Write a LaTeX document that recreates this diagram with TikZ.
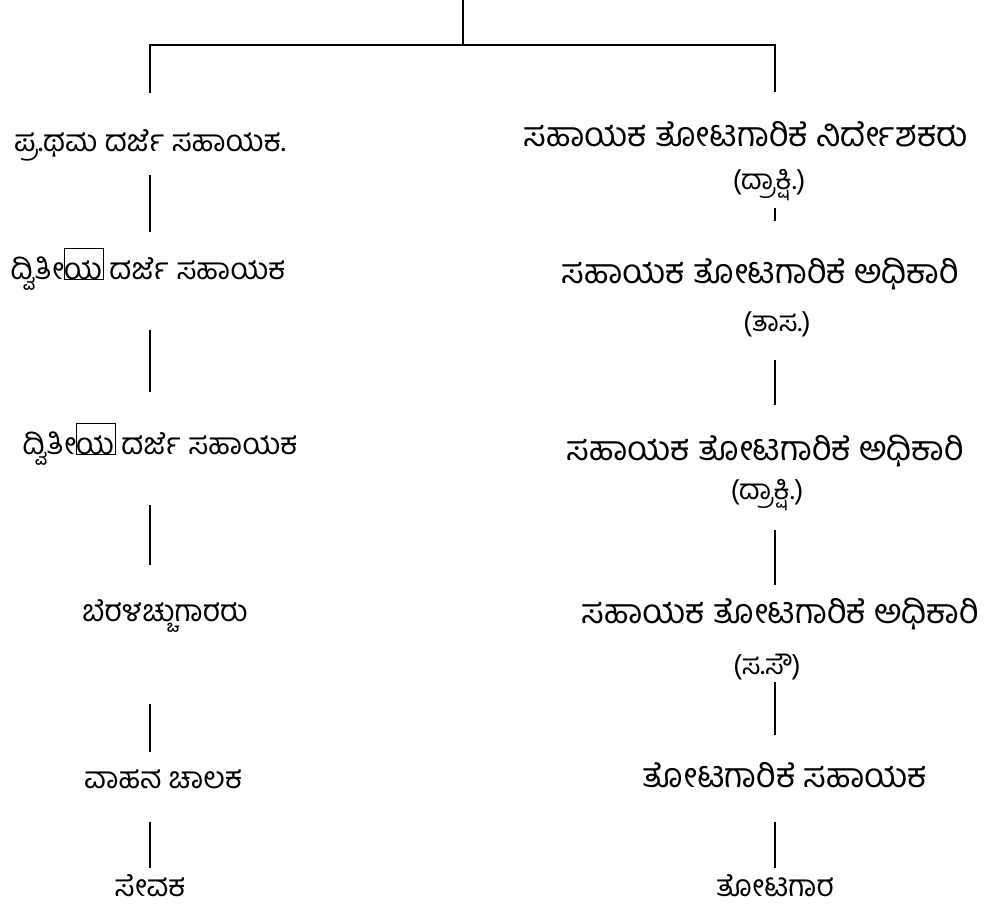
\documentclass[tikz,border=0pt]{standalone}
\usepackage{fontspec}
\newfontfamily\kn[Script=Kannada]{Hind Mysuru}
% hollow box standing in for an unrendered glyph, drawn over the letter
\newcommand\glyphbox[1]{\setbox0\hbox{#1}\rlap{\fboxsep=0pt\fboxrule=0.7pt\fbox{\rule{0pt}{1.0em}\hspace{\wd0}}}#1}
\begin{document}
\begin{tikzpicture}[x=1pt,y=-1pt,
  link/.style={line width=1.6pt},
  lefttxt/.style={font=\kn\fontsize{30}{34}\selectfont, inner sep=0pt, anchor=base},
  righttxt/.style={font=\kn\fontsize{34}{38}\selectfont, inner sep=0pt, anchor=base},
  subtxt/.style={font=\kn\fontsize{28}{32}\selectfont, inner sep=0pt, anchor=base}]
\useasboundingbox (0,0) rectangle (997,916);

% branching bracket at the top
\coordinate (top) at (463,0);
\coordinate (mid) at (463,45);
\coordinate (hL) at (150,45);
\coordinate (hR) at (775,45);
\coordinate (dL) at (150,93);
\coordinate (dR) at (775,92);
\draw[link] (top) -- (mid);
\draw[link] (dL) -- (hL) -- (hR) -- (dR);

% left column
\node[lefttxt] (L1) at (150,151) {ಪ್ರ.ಥಮ ದರ್ಜೆ ಸಹಾಯಕ.};
\node[lefttxt] (L2) at (148,279) {ದ್ವಿತೀ\glyphbox{ಯ} ದರ್ಜೆ ಸಹಾಯಕ};
\node[lefttxt] (L3) at (160,454) {ದ್ವಿತೀ\glyphbox{ಯ} ದರ್ಜೆ ಸಹಾಯಕ};
\node[lefttxt] (L4) at (165,621) {ಬೆರಳಚ್ಚುಗಾರರು};
\node[lefttxt] (L5) at (163,788) {ವಾಹನ ಚಾಲಕ};
\node[lefttxt] (L6) at (150,896) {ಸೇವಕ};

\coordinate (a1) at (150,175); \coordinate (b1) at (150,232);
\coordinate (a2) at (150,330); \coordinate (b2) at (150,392);
\coordinate (a3) at (150,505); \coordinate (b3) at (150,565);
\coordinate (a4) at (150,704); \coordinate (b4) at (150,752);
\coordinate (a5) at (150,822); \coordinate (b5) at (150,868);
\foreach \i in {1,...,5} \draw[link] (a\i) -- (b\i);

% right column
\node[righttxt] (R1) at (746,146) {ಸಹಾಯಕ ತೋಟಗಾರಿಕೆ ನಿರ್ದೇಶಕರು};
\node[subtxt] (R1s) at (769,189) {(ದ್ರಾಕ್ಷಿ.)};
\node[righttxt] (R2) at (760,283) {ಸಹಾಯಕ ತೋಟಗಾರಿಕೆ ಅಧಿಕಾರಿ};
\node[subtxt] (R2s) at (777,331) {(ತಾಸ.)};
\node[righttxt] (R3) at (765,460) {ಸಹಾಯಕ ತೋಟಗಾರಿಕೆ ಅಧಿಕಾರಿ};
\node[subtxt] (R3s) at (767,499) {(ದ್ರಾಕ್ಷಿ.)};
\node[righttxt] (R4) at (780,623) {ಸಹಾಯಕ ತೋಟಗಾರಿಕೆ ಅಧಿಕಾರಿ};
\node[subtxt] (R4s) at (767,674) {(ಸ.ಸೌ)};
\node[righttxt] (R5) at (785,787) {ತೋಟಗಾರಿಕೆ ಸಹಾಯಕ};
\node[lefttxt] (R6) at (775,896) {ತೋಟಗಾರ};

\coordinate (c1) at (775,208); \coordinate (e1) at (775,221);
\coordinate (c2) at (775,360); \coordinate (e2) at (775,405);
\coordinate (c3) at (775,530); \coordinate (e3) at (775,585);
\coordinate (c4) at (775,682); \coordinate (e4) at (775,735);
\coordinate (c5) at (775,822); \coordinate (e5) at (775,868);
\foreach \i in {1,...,5} \draw[link] (c\i) -- (e\i);
\end{tikzpicture}
\end{document}
